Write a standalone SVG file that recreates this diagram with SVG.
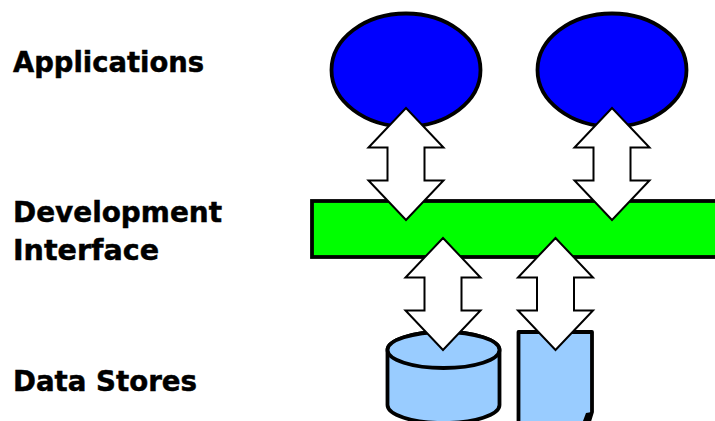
<svg xmlns="http://www.w3.org/2000/svg" width="715" height="421" viewBox="0 0 715 421">
<defs><path id="arr" d="M0,-56 L37.500,-16.500 L18.500,-16.500 L18.500,16.500 L37.500,16.500 L0,56 L-37.500,16.500 L-18.500,16.500 L-18.500,-16.500 L-37.500,-16.500 Z"/></defs>
<style>
.l{font-family:"DejaVu Sans",Verdana,sans-serif;font-weight:bold;font-size:28px;fill:#000;stroke:#000;stroke-width:.5}
.s{stroke:#000;stroke-width:3.800}
.a{fill:#fff;stroke:#000;stroke-width:2}
</style>
<rect width="715" height="421" fill="#fff"/>
<g id="labels">
<text class="l" x="13" y="72" textLength="191" lengthAdjust="spacingAndGlyphs">Applications</text>
<text class="l" x="13" y="222" textLength="209" lengthAdjust="spacingAndGlyphs">Development</text>
<text class="l" x="13" y="260" textLength="146" lengthAdjust="spacingAndGlyphs">Interface</text>
<text class="l" x="13" y="391" textLength="184" lengthAdjust="spacingAndGlyphs">Data Stores</text>
</g>
<g id="app1"><ellipse class="s" cx="406" cy="70" rx="74.500" ry="56.500" fill="#0000ff"/></g>
<g id="app2"><ellipse class="s" cx="612" cy="70" rx="74.500" ry="56.500" fill="#0000ff"/></g>
<g id="interface"><rect class="s" x="312" y="201" width="410" height="56" fill="#00ff00"/></g>
<g id="store1"><path class="s" fill="#99ccff" d="M387.500,350 V405 A56,18 0 0 0 499.500,405 V350 A56,18 0 0 0 387.500,350 Z"/><ellipse class="s" cx="443.500" cy="350" rx="56" ry="18" fill="#99ccff"/></g>
<g id="store2"><path class="s" fill="#99ccff" stroke-linejoin="round" d="M518.500,332 H592 V412 L588,425 H518.500 Z"/><path d="M583,421 L586,413 L592,412 L590,421 Z" fill="#000"/></g>
<g id="connectors">
<use href="#arr" class="a" x="406" y="164"/>
<use href="#arr" class="a" x="612" y="164"/>
<use href="#arr" class="a" x="443" y="294"/>
<use href="#arr" class="a" x="555.500" y="294"/>
</g>
</svg>
